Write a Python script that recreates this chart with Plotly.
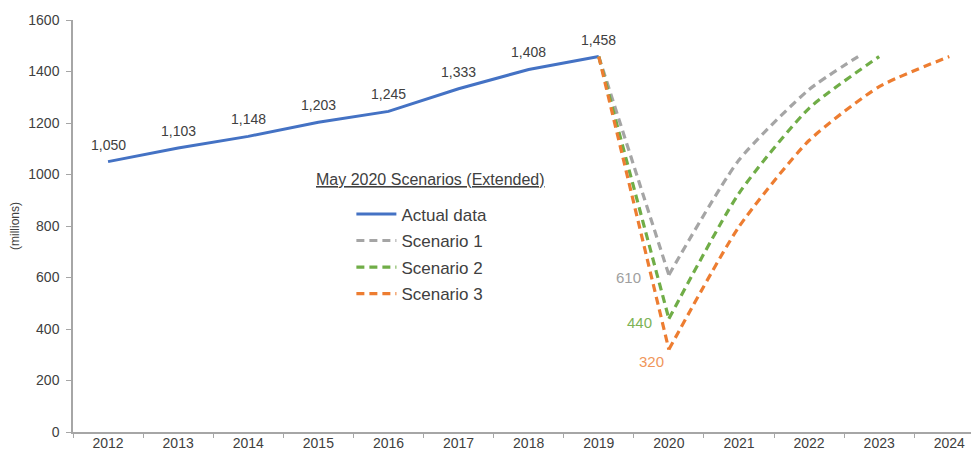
import plotly.graph_objects as go

# ---- data ----
actual_years = [2012, 2013, 2014, 2015, 2016, 2017, 2018, 2019]
actual_values = [1050, 1103, 1148, 1203, 1245, 1333, 1408, 1458]

s1_years = [2019, 2020, 2021, 2022, 2022.7]
s1_values = [1458, 610, 1056, 1330, 1458]

s2_years = [2019, 2020, 2021, 2022, 2023]
s2_values = [1458, 440, 927, 1257, 1458]

s3_years = [2019, 2020, 2021, 2022, 2023, 2024]
s3_values = [1458, 320, 797, 1132, 1341, 1458]

tick_years = list(range(2012, 2025))
tick_labels = [str(y) for y in tick_years]

BLUE = "#4472C4"
GRAY = "#A5A5A5"
GREEN = "#70AD47"
ORANGE = "#ED7D31"
TXT = "#404040"

fig = go.Figure()

fig.add_trace(go.Scatter(
    x=actual_years, y=actual_values, mode="lines", name="Actual data",
    line=dict(color=BLUE, width=3), legendgroup="a",
))

scen = [
    ("Scenario 1", s1_years, s1_values, GRAY, "s1"),
    ("Scenario 2", s2_years, s2_values, GREEN, "s2"),
    ("Scenario 3", s3_years, s3_values, ORANGE, "s3"),
]
for name, xs, ys, col, grp in scen:
    # descent segment (straight)
    fig.add_trace(go.Scatter(
        x=xs[:2], y=ys[:2], mode="lines", name=name,
        line=dict(color=col, width=3.2, dash="8px,5px"),
        legendgroup=grp, showlegend=True,
    ))
    # recovery segment (smooth)
    fig.add_trace(go.Scatter(
        x=xs[1:], y=ys[1:], mode="lines", name=name,
        line=dict(color=col, width=3.2, dash="8px,5px", shape="spline", smoothing=0.6),
        legendgroup=grp, showlegend=False,
    ))

annotations = []
for x, v in zip(actual_years, actual_values):
    annotations.append(dict(
        x=x, y=v, xref="x", yref="y", text=f"{v:,}", showarrow=False,
        yshift=17, font=dict(size=14, color=TXT),
    ))

min_label_cols = ["#A0A0A0", "#7DB356", "#F0965A"]
min_shifts = [(-40, -3), (-29, -4), (-17, -12)]
for (name, xs, ys, col, grp), lc, (dx, dy) in zip(scen, min_label_cols, min_shifts):
    annotations.append(dict(
        x=xs[1], y=ys[1], xref="x", yref="y", text=str(ys[1]), showarrow=False,
        xshift=dx, yshift=dy, font=dict(size=15, color=lc),
    ))

annotations.append(dict(
    x=0.3976, y=0.614, xref="paper", yref="paper",
    text="<u>May 2020 Scenarios (Extended)</u>", showarrow=False,
    font=dict(size=16, color=TXT), xanchor="center", yanchor="middle",
))

fig.update_layout(
    width=971, height=452,
    margin=dict(l=73, r=0, t=20, b=20, autoexpand=False),
    paper_bgcolor="white", plot_bgcolor="white",
    font=dict(family="Liberation Sans, Arial, sans-serif", color=TXT),
    showlegend=True,
    legend=dict(
        x=0.31, y=0.572, xanchor="left", yanchor="top",
        font=dict(size=17, color=TXT),
        traceorder="grouped", tracegroupgap=1.5,
        itemwidth=40, bgcolor="rgba(0,0,0,0)",
    ),
    annotations=annotations,
    xaxis=dict(
        range=[2011.5, 2024.31], automargin=False,
        tickmode="array", tickvals=tick_years, ticktext=tick_labels,
        ticks="", showgrid=False, zeroline=False,
        showline=True, linecolor="#A6A6A6", linewidth=1.5,
        tickfont=dict(size=14, color=TXT), ticklabelstandoff=-3,
        minor=dict(tickmode="linear", tick0=2011.5, dtick=1, ticks="outside",
                   ticklen=4, tickcolor="#A6A6A6", showgrid=False),
    ),
    yaxis=dict(
        range=[0, 1600], dtick=200, tick0=0, automargin=False,
        ticks="outside", ticklen=5, tickcolor="#A6A6A6",
        showgrid=False, zeroline=False,
        showline=True, linecolor="#A6A6A6", linewidth=1.5,
        tickfont=dict(size=14, color=TXT), ticklabelstandoff=4,
        title=dict(text="(millions)", font=dict(size=12, color=TXT), standoff=6),
    ),
)

fig.write_html(
    "out.html",
    config={"displayModeBar": False},
    post_script="document.body.style.margin='0';document.body.style.padding='0';",
)
